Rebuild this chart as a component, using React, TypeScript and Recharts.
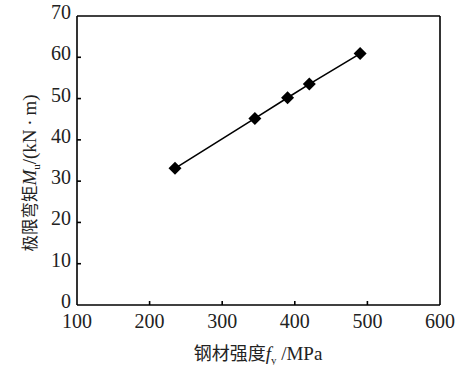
import { LineChart, Line, XAxis, YAxis, ReferenceLine } from 'recharts'

const strengths = [235, 345, 390, 420, 490]
const moments = [33.1, 45.2, 50.2, 53.5, 60.9]
const xTicks = [100, 200, 300, 400, 500, 600]
const yTicks = [0, 10, 20, 30, 40, 50, 60, 70]

const data = strengths.map((fy, i) => ({ fy, mu: moments[i] }))

const FONT = "'Liberation Serif', 'Times New Roman', 'Noto Sans CJK SC', serif"
const txt = { fontFamily: FONT }

const Diamond = (props: any) => {
   const { cx, cy } = props
   if (cx == null || cy == null) return null
   const r = 6.5
   return (
      <path
         d={`M${cx},${cy - r}L${cx + r},${cy}L${cx},${cy + r}L${cx - r},${cy}Z`}
         fill='#000'
         stroke='none'
      />
   )
}

const XTick = (props: any) => {
   const { x, y, payload } = props
   const edge = payload.value === 100 || payload.value === 600
   return (
      <g>
         {!edge && <line x1={x} y1={y} x2={x} y2={y - 4} stroke='#000' strokeWidth={1.6} />}
         <text x={x} y={y + 23} textAnchor='middle' fontSize={20} style={txt} fill='#222'>
            {payload.value}
         </text>
      </g>
   )
}

const YTick = (props: any) => {
   const { x, y, payload } = props
   const edge = payload.value === 0 || payload.value === 70
   return (
      <g>
         {!edge && <line x1={x} y1={y} x2={x + 4} y2={y} stroke='#000' strokeWidth={1.6} />}
         <text x={x - 6} y={y + 3} textAnchor='end' fontSize={20} style={txt} fill='#222'>
            {payload.value}
         </text>
      </g>
   )
}

const XTitle = () => (
   <text x={258} y={360} textAnchor='middle' fontSize={19} style={txt} fill='#222'>
      <tspan fontSize={18}>钢材强度</tspan>
      <tspan fontStyle='italic'>f</tspan>
      <tspan fontSize={11} dy={4}>y</tspan>
      <tspan dy={-4}> /MPa</tspan>
   </text>
)

const YTitle = () => (
   <text
      x={0}
      y={0}
      transform='translate(36,173) rotate(-90)'
      textAnchor='middle'
      fontSize={19}
      style={txt}
      fill='#222'
   >
      <tspan fontSize={16.5}>极限弯矩</tspan>
      <tspan fontStyle='italic'>M</tspan>
      <tspan fontSize={11} dy={4}>u</tspan>
      <tspan dy={-4}>/(kN{'\u2009·\u2009'}m)</tspan>
   </text>
)

export default function App() {
   return (
      <div style={{ position: 'absolute', left: 0, top: 0, background: '#fff' }}>
         <LineChart width={459} height={365} data={data} margin={{ top: 16, right: 19, bottom: 0, left: 0 }}>
            <XAxis
               dataKey='fy'
               type='number'
               domain={[100, 600]}
               ticks={xTicks}
               tickSize={0}
               tickMargin={0}
               tick={<XTick />}
               height={60}
               stroke='#000'
               strokeWidth={1.6}
               label={<XTitle />}
            />
            <YAxis
               dataKey='mu'
               type='number'
               domain={[0, 70]}
               ticks={yTicks}
               tickSize={0}
               tickMargin={0}
               tick={<YTick />}
               width={77}
               stroke='#000'
               strokeWidth={1.6}
               label={<YTitle />}
            />
            <ReferenceLine y={70} stroke='#000' strokeWidth={1.6} />
            <ReferenceLine x={600} stroke='#000' strokeWidth={1.6} />
            <Line
               dataKey='mu'
               type='linear'
               stroke='#000'
               strokeWidth={1.6}
               dot={<Diamond />}
               activeDot={false}
               isAnimationActive={false}
            />
         </LineChart>
      </div>
   )
}
